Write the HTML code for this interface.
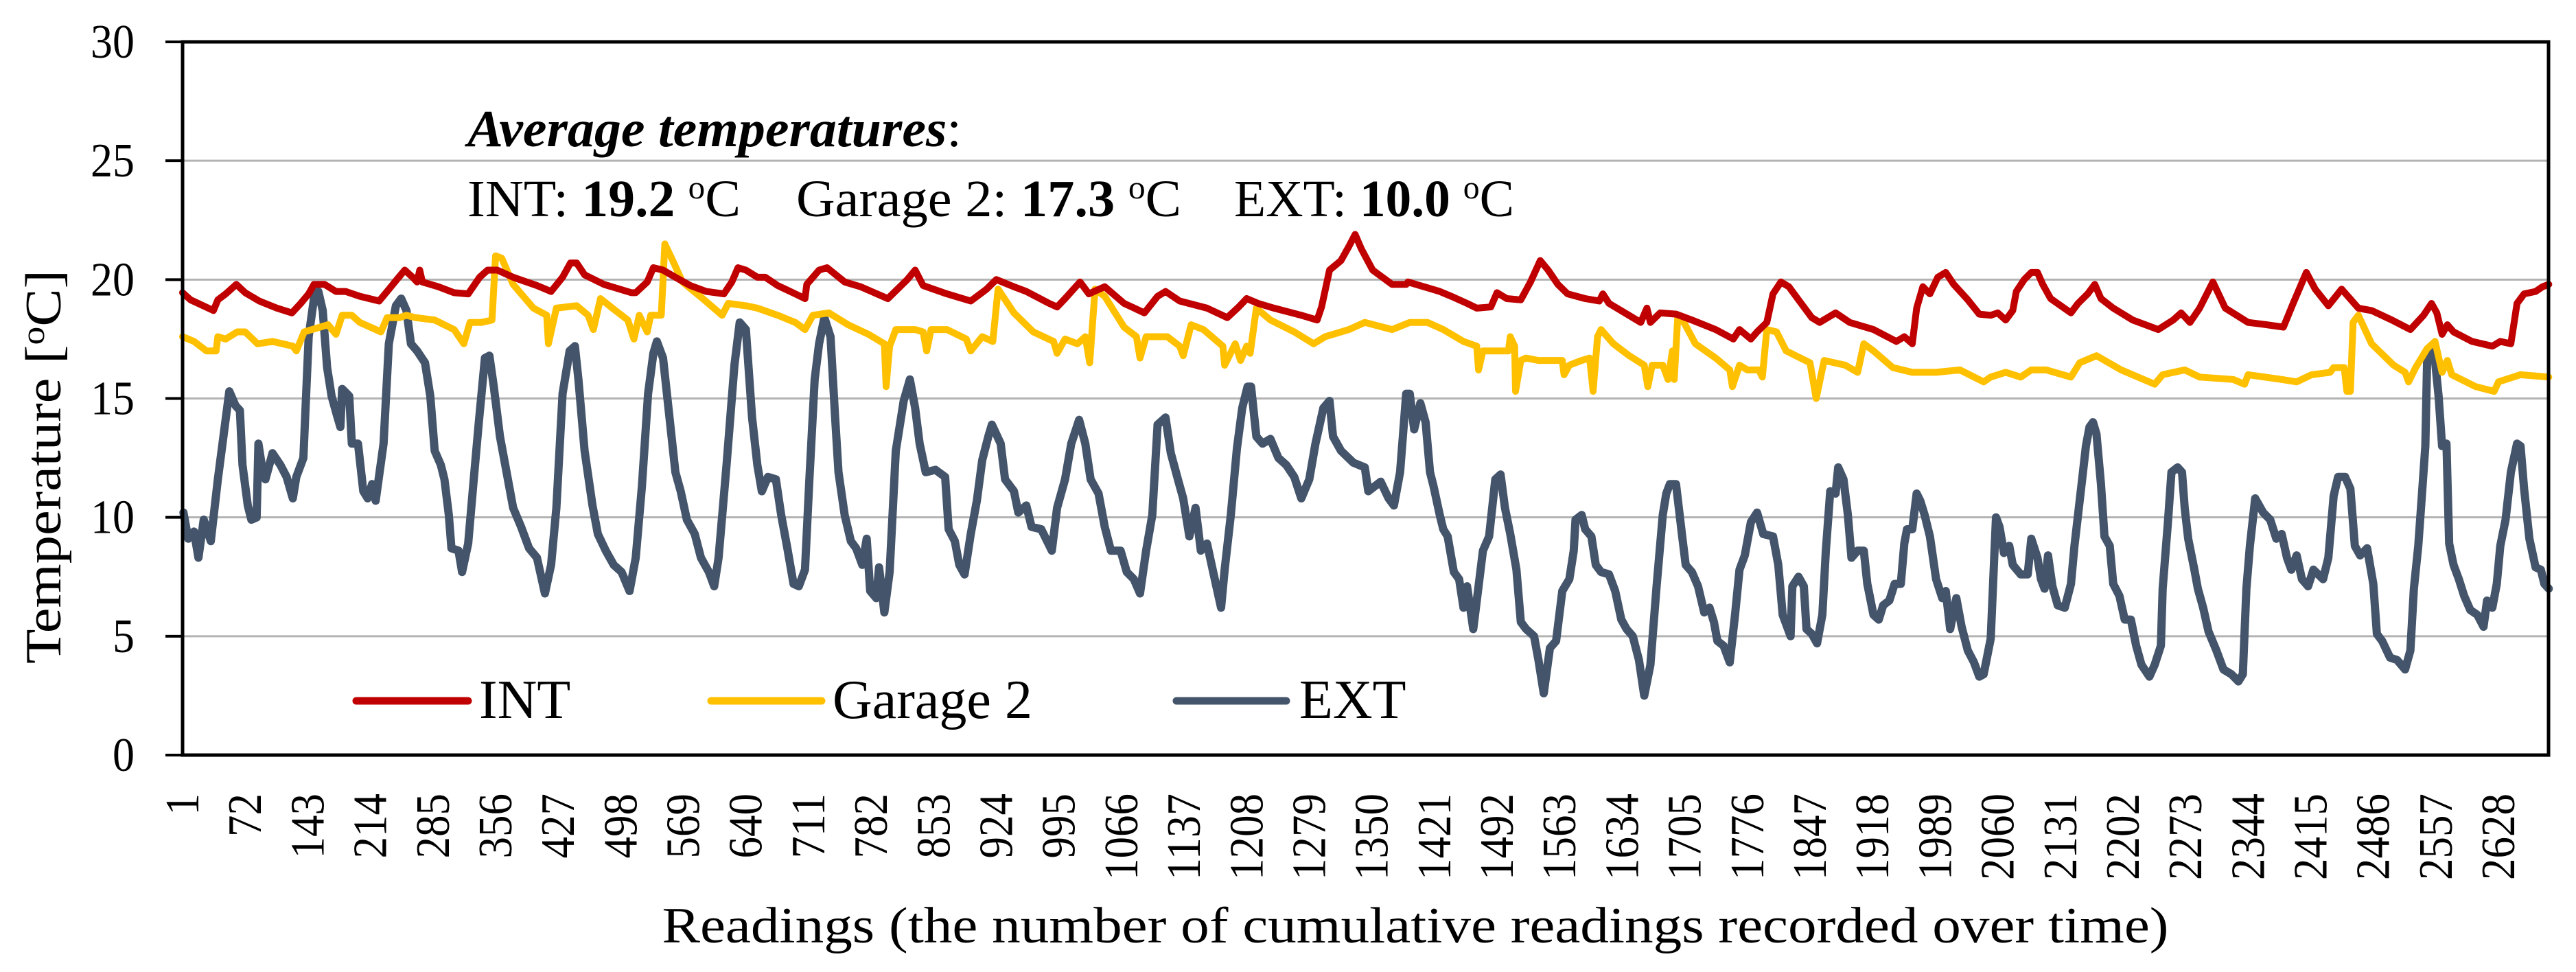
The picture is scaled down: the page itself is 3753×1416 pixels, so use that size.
<!DOCTYPE html>
<html><head><meta charset="utf-8"><style>
html,body{margin:0;padding:0;background:#fff;}
svg{display:block;font-family:"Liberation Serif",serif;}
</style></head><body>
<svg id="chart" width="3753" height="1416" viewBox="0 0 3753 1416" xmlns="http://www.w3.org/2000/svg">
<g id="grid"></g>
<g id="series"></g>
<g id="axes"></g>
<g font-size="76">
<text x="681" y="213" font-style="italic" font-weight="bold" textLength="720" lengthAdjust="spacingAndGlyphs">Average temperatures<tspan font-style="normal" font-weight="normal">:</tspan></text>
<text x="681" y="315" textLength="398" lengthAdjust="spacingAndGlyphs">INT: <tspan font-weight="bold">19.2</tspan> <tspan font-size="48" dy="-26">o</tspan><tspan dy="26">C</tspan></text>
<text x="1160" y="315" textLength="561" lengthAdjust="spacingAndGlyphs">Garage 2: <tspan font-weight="bold">17.3</tspan> <tspan font-size="48" dy="-26">o</tspan><tspan dy="26">C</tspan></text>
<text x="1798" y="315" textLength="408" lengthAdjust="spacingAndGlyphs">EXT: <tspan font-weight="bold">10.0</tspan> <tspan font-size="48" dy="-26">o</tspan><tspan dy="26">C</tspan></text>
</g>
<g font-size="80">
<line x1="519" y1="1021" x2="682" y2="1021" stroke="#C00000" stroke-width="11" stroke-linecap="round"/>
<text x="698" y="1046">INT</text>
<line x1="1036" y1="1021" x2="1197" y2="1021" stroke="#FFC000" stroke-width="11" stroke-linecap="round"/>
<text x="1213" y="1046">Garage 2</text>
<line x1="1714" y1="1021" x2="1874" y2="1021" stroke="#44546A" stroke-width="11" stroke-linecap="round"/>
<text x="1893" y="1046">EXT</text>
</g>
<text transform="translate(88,680) rotate(-90)" text-anchor="middle" font-size="74" textLength="574" lengthAdjust="spacingAndGlyphs">Temperature [<tspan font-size="48" dy="-24">o</tspan><tspan dy="24">C]</tspan></text>
<text x="2062" y="1373" text-anchor="middle" font-size="74" textLength="2195" lengthAdjust="spacingAndGlyphs">Readings (the number of cumulative readings recorded over time)</text>
</svg>
<script>
const yTickValues = [0,5,10,15,20,25,30];
const xTickLabels = [1,72,143,214,285,356,427,498,569,640,711,782,853,924,995,1066,1137,1208,1279,1350,1421,1492,1563,1634,1705,1776,1847,1918,1989,2060,2131,2202,2273,2344,2415,2486,2557,2628];

const intR = [1,10,36,41,50,62,72,88,108,125,135,144,150,162,175,186,202,224,233,244,253,262,267,270,273,291,309,325,338,347,358,376,403,419,432,441,448,457,479,510,515,528,535,546,560,577,595,615,624,631,640,653,662,676,696,
707,709,723,732,752,770,801,823,832,841,868,895,913,924,944,958,984,993,1002,1019,1029,1047,1069,1092,1107,1116,1132,1163,1186,1199,1208,1221,1239,1270,1288,1293,1302,1315,1324,1331,1338,1351,1373,1389,
1391,1409,1427,1440,1458,1469,1485,1492,1503,1519,1530,1541,1550,1561,1572,1592,1608,1612,1619,1637,1655,1662,1666,1677,1695,1713,1740,1760,1767,1780,1787,1798,1805,1814,1823,1834,1849,1858,1876,1892,1919,1945,1954,1963,1968,1975,1983,1992,2001,2010,2026,2039,
2052,2060,2069,2077,2081,2090,2098,2105,2111,2120,2143,2151,2162,2170,2177,2191,2213,2242,2259,2268,2278,2289,2304,2318,2344,2365,2384,2395,2410,2420,2435,2450,2469,2484,2507,2528,2543,2552,2558,2564,2570,2577,2598,2621,2630,2642,2649,2657,2670,2678,2685];
const intV = [19.45,19.15,18.7,19.15,19.4,19.8,19.45,19.1,18.8,18.6,19.0,19.4,19.8,19.8,19.5,19.5,19.3,19.1,19.5,20.0,20.4,20.1,19.9,20.4,19.9,19.7,19.45,19.4,20.1,20.4,20.4,20.1,19.75,19.5,20.1,20.7,20.7,20.2,19.8,19.45,19.45,19.9,20.5,20.4,20.1,19.75,19.5,19.4,19.9,20.5,20.4,20.1,20.1,19.75,19.4,
19.2,19.8,20.4,20.5,19.9,19.7,19.2,20.0,20.4,19.75,19.4,19.1,19.6,20.0,19.7,19.5,19.0,18.85,19.2,19.9,19.4,19.7,19.0,18.6,19.3,19.5,19.1,18.8,18.4,18.85,19.2,19.0,18.8,18.5,18.3,18.85,20.4,20.8,21.4,21.9,21.3,20.4,19.8,19.8,
19.9,19.7,19.5,19.3,19.0,18.8,18.85,19.45,19.2,19.15,19.9,20.8,20.4,19.8,19.4,19.2,19.1,19.4,19.0,18.6,18.2,18.8,18.2,18.6,18.55,18.3,17.9,17.5,17.9,17.5,17.8,18.2,19.4,19.9,19.7,19.15,18.4,18.2,18.6,18.2,17.9,17.4,17.6,17.3,18.8,19.7,19.4,20.1,20.3,19.8,19.15,18.55,
18.5,18.6,18.3,18.7,19.5,20.0,20.3,20.3,19.8,19.2,18.6,19.0,19.4,19.8,19.2,18.8,18.3,17.9,18.3,18.6,18.2,18.8,19.9,18.8,18.2,18.1,18.0,19.0,20.3,19.6,18.9,19.6,18.8,18.7,18.3,17.9,18.5,19.0,18.6,17.7,18.1,17.8,17.4,17.2,17.4,17.3,19.0,19.4,19.5,19.7,19.8];

const garR = [1,14,28,39,41,50,63,72,86,103,126,130,139,166,175,182,193,202,226,233,247,255,265,287,309,320,327,340,352,356,363,376,399,414,416,425,448,461,467,475,492,506,513,519,528,532,544,548,557,568,591,613,620,640,653,676,696,
707,716,734,756,779,797,799,803,810,832,841,845,850,868,890,895,908,920,926,944,966,989,993,1002,1016,1025,1030,1036,1047,1069,1083,1087,1094,1118,1132,1136,1145,1159,1181,1183,1195,1201,1208,1212,1219,1235,1262,1284,1297,1324,1342,1373,
1393,1413,1431,1454,1469,1471,1476,1492,1505,1507,1512,1513,1519,1525,1539,1566,1568,1574,1588,1597,1601,1606,1610,1624,1642,1659,1663,1668,1680,1686,1691,1693,1697,1704,1717,1740,1756,1759,1767,1776,1789,1793,1798,1809,1820,1847,1854,1863,1887,1901,1908,1919,1941,1963,1990,2017,2044,
2052,2069,2086,2098,2115,2143,2153,2172,2200,2238,2247,2272,2289,2327,2340,2344,2382,2399,2416,2437,2441,2453,2456,2460,2463,2469,2484,2509,2522,2526,2534,2547,2556,2564,2570,2575,2602,2623,2628,2653,2685];
const garV = [17.6,17.4,17.0,17.0,17.6,17.5,17.8,17.8,17.3,17.4,17.2,17.0,17.8,18.1,17.7,18.5,18.5,18.2,17.8,18.4,18.4,18.5,18.4,18.3,17.9,17.3,18.2,18.2,18.3,21.0,20.9,19.8,18.8,18.5,17.3,18.8,18.9,18.5,17.9,19.2,18.7,18.3,17.5,18.5,17.8,18.5,18.5,21.5,20.8,19.9,19.2,18.5,19.0,18.9,18.8,18.5,18.2,
17.9,18.5,18.6,18.1,17.7,17.3,15.5,17.2,17.9,17.9,17.8,17.0,17.9,17.9,17.5,17.0,17.6,17.4,19.6,18.6,17.8,17.4,16.9,17.5,17.3,17.6,16.5,19.6,19.3,18.0,17.6,16.7,17.6,17.6,17.2,16.8,18.1,17.9,17.2,16.4,17.3,16.6,17.2,16.9,18.8,18.3,17.8,17.3,17.6,17.9,18.2,17.9,
18.2,18.2,17.9,17.4,17.2,16.2,17.0,17.0,17.0,17.6,17.2,15.3,16.6,16.7,16.6,16.6,16.0,16.4,16.6,16.7,15.3,17.6,17.9,17.3,16.8,16.4,15.5,16.4,16.4,15.8,17.0,15.8,18.4,18.2,17.3,16.7,16.2,15.5,16.4,16.2,16.2,15.9,17.9,17.8,17.0,16.5,15.0,16.6,16.4,16.1,17.3,17.0,16.3,16.1,16.1,16.2,15.7,
15.9,16.1,15.9,16.2,16.2,15.9,16.5,16.8,16.2,15.6,16.0,16.2,15.9,15.8,15.6,16.0,15.8,15.7,16.0,16.1,16.3,16.3,15.3,15.3,18.2,18.5,17.3,16.4,16.1,15.7,16.3,17.1,17.4,16.1,16.6,16.0,15.5,15.3,15.7,16.0,15.9];

const extR = [2,7.5,14,19,25,33,41,48,54,61,66,69,75,79,85,87,92,95,103,112,119,126,130,138,144,150,155,160,165,170,176,180,182,190,193,200,206,211,216,220,229,235,243,249,255,260,267,276,282,287,294,298,303,306,314,318,325,331,337,344,349,354,361,367,376,385,394,403,412,419,425,432,440,446,450,457,466,472,481,490,499,508,515,522,529,535,539,546,553,560,566,573,582,589,598,604,609,618,627,633,640,647,653,658,665,674,680,687,694,
700,707,712,718,723,729,736,741,745,752,759,765,772,777,781,788,791,797,803,810,819,826,832,837,844,855,866,870,877,882,888,895,902,908,915,919,929,934,944,949,958,964,975,987,993,1002,1009,1018,1025,1031,1040,1047,1054,1065,1072,1080,1087,1094,1101,1107,1116,1122,1130,1136,1143,1150,1156,1163,1170,1179,1183,1190,1197,1203,1209,1213,1219,1226,1235,1244,1253,1262,1270,1279,1286,1295,1302,1306,1315,1329,1342,1346,1360,1369,1375,1382,
1389,1393,1398,1405,1411,1416,1420,1427,1431,1436,1443,1449,1454,1458,1465,1472,1476,1483,1490,1496,1501,1507,1514,1519,1525,1534,1539,1545,1552,1559,1566,1574,1579,1581,1588,1592,1599,1604,1610,1619,1626,1633,1639,1646,1653,1659,1666,1673,1680,1684,1688,1695,1702,1706,1713,1720,1727,1733,1738,1742,1749,1756,1762,1767,1773,1780,1787,1794,1805,1811,1816,1825,1827,1834,1840,1843,1849,1855,1861,1865,1870,1876,1879,1885,1890,1894,1901,1908,1912,1919,1925,1930,1937,1943,1950,1954,1957,1963,1968,1972,1977,1983,1990,1997,2001,2006,2013,2019,2026,2033,2039,2044,
2052,2056,2058,2062,2067,2073,2077,2086,2094,2098,2105,2109,2113,2117,2122,2128,2136,2143,2147,2151,2156,2160,2164,2168,2172,2177,2181,2187,2191,2198,2204,2211,2217,2223,2232,2238,2245,2247,2253,2257,2264,2269,2272,2276,2283,2287,2293,2299,2308,2316,2325,2333,2338,2342,2346,2352,2361,2369,2376,2382,2388,2393,2399,2405,2412,2418,2429,2435,2441,2446,2454,2460,2465,2471,2479,2486,2490,2496,2505,2513,2522,2528,2532,2537,2541,2545,2547,2552,2556,2560,2564,2569,2572,2577,2583,2589,2596,2604,2611,2615,2621,2626,2630,2636,2642,2649,2653,2657,2663,2670,2676,2680,2685];
const extV = [10.2,9.1,9.4,8.3,9.9,9.0,11.6,13.6,15.3,14.7,14.5,12.2,10.5,9.9,10.0,13.1,11.9,11.6,12.7,12.2,11.7,10.8,11.7,12.5,17.6,19.2,19.5,18.7,16.3,15.1,14.3,13.8,15.4,15.1,13.1,13.1,11.1,10.8,11.4,10.7,13.1,17.3,18.9,19.2,18.7,17.3,17.0,16.5,15.1,12.8,12.2,11.6,10.1,8.7,8.6,7.7,8.9,11.5,14.0,16.7,16.8,15.5,13.4,12.2,10.4,9.6,8.7,8.3,6.8,8.0,10.4,15.2,17.0,17.2,15.8,12.8,10.5,9.3,8.6,8.0,7.7,6.9,8.3,11.3,15.2,16.9,17.4,16.7,14.3,11.9,11.1,9.9,9.3,8.3,7.7,7.1,8.3,12.2,16.4,18.2,17.9,14.2,12.2,11.1,11.7,11.6,10.1,8.7,7.2,
7.1,7.8,11.6,15.8,17.3,18.4,17.6,14.3,11.9,10.1,9.0,8.7,8.0,9.1,6.9,6.6,7.9,6.0,7.7,12.8,14.9,15.8,14.6,13.1,11.9,12.0,11.7,9.5,9.0,8.0,7.6,9.3,10.7,12.4,13.4,13.9,13.1,11.6,11.1,10.2,10.5,9.6,9.5,8.6,10.4,11.6,13.1,14.1,13.1,11.6,11.0,9.6,8.6,8.6,7.7,7.4,6.8,8.6,10.1,13.9,14.2,12.7,11.6,10.8,9.2,10.4,8.6,8.9,7.7,6.2,7.8,10.1,12.9,14.6,15.5,15.5,13.4,13.1,13.3,12.5,12.2,11.7,10.8,11.6,13.1,14.6,14.9,13.4,12.8,12.3,12.1,11.1,11.5,10.8,10.5,11.9,
15.2,15.2,13.7,14.8,14.0,11.9,11.3,10.1,9.5,9.2,7.7,7.4,6.2,7.1,5.3,7.4,8.6,9.2,11.6,11.8,10.4,9.3,7.8,5.6,5.3,5.0,4.0,2.6,4.5,4.8,6.9,7.4,8.6,9.9,10.1,9.5,9.2,8.0,7.7,7.6,6.9,5.7,5.3,5.0,4.0,2.5,3.8,7.1,10.1,11.0,11.4,11.4,9.2,8.0,7.7,7.1,6.0,6.2,5.6,4.8,4.6,3.9,5.9,7.8,8.4,9.8,10.2,9.3,9.2,8.0,5.9,5.0,7.1,7.5,7.1,5.3,5.1,4.7,5.9,8.6,11.1,11.0,12.1,11.6,10.1,8.3,8.6,8.6,7.2,5.9,5.7,6.3,6.5,7.2,7.2,8.9,9.5,9.5,11.0,10.7,10.1,9.2,7.4,6.6,6.9,5.3,6.6,5.4,4.4,3.9,3.3,3.4,
4.9,8.3,10.0,9.6,8.5,8.8,8.0,7.6,7.6,9.1,8.3,7.4,7.0,8.4,7.1,6.3,6.2,7.2,8.8,10.1,11.7,13.0,13.8,14.0,13.5,11.4,9.2,8.8,7.2,6.7,5.7,5.7,4.6,3.8,3.3,3.8,4.6,7.0,9.8,11.9,12.1,11.9,10.4,9.1,7.8,7.0,6.2,5.2,4.4,3.6,3.4,3.1,3.4,7.0,8.8,10.8,10.2,9.9,9.1,9.3,8.3,7.8,8.4,7.4,7.1,7.8,7.4,8.3,10.9,11.7,11.7,11.2,8.8,8.4,8.7,7.2,5.1,4.8,4.1,4.0,3.6,4.4,7.0,8.8,10.9,13.0,16.6,17.1,16.6,15.1,13.0,13.1,8.9,8.0,7.4,6.7,6.1,5.9,5.4,6.5,6.2,7.2,8.8,9.9,11.9,13.1,13.0,11.2,9.1,7.9,7.8,7.2,7.0];

const NS = 'http://www.w3.org/2000/svg';
const PL = 266, PR = 3713, PT = 61, PB = 1100;
const yMin = 0, yMax = 30, rFirst = 1, rStep = 1.2844;
function xScale(r){ return PL + (r - rFirst) * rStep; }
function yScale(v){ return PB - (v - yMin) / (yMax - yMin) * (PB - PT); }
function mk(tag, attrs, parent){ const e = document.createElementNS(NS, tag); for (const k in attrs) e.setAttribute(k, attrs[k]); parent.appendChild(e); return e; }

const grid = document.getElementById('grid');
const axes = document.getElementById('axes');
const series = document.getElementById('series');

yTickValues.forEach(v => {
  const y = yScale(v);
  if (v > yMin && v < yMax) {
    const g = mk('line', {x1: PL, x2: PR, y1: y, y2: y, stroke: '#b3b3b3', 'stroke-width': 3}, grid);
    
    
  }
  const t = mk('line', {x1: PL - 25, x2: PL, y1: y, y2: y, stroke: '#000', 'stroke-width': 4}, axes);
  
  
  const s = String(v);
  const lb = mk('text', {x: 196, y: y + 23, 'text-anchor': 'end', 'font-size': 70, textLength: s.length * 32, lengthAdjust: 'spacingAndGlyphs'}, axes);
  lb.textContent = s;
  
  
});

const frame = mk('path', {d: `M${PL},${PB} L${PL},${PT} L${PR},${PT} L${PR},${PB} Z`, fill: 'none', stroke: '#000', 'stroke-width': 5}, axes);



xTickLabels.forEach(r => {
  const x = xScale(r);
  const s = String(r);
  const t = mk('text', {transform: `translate(${x + 23},1156) rotate(-90)`, 'text-anchor': 'end', 'font-size': 70, textLength: s.length * 31.5, lengthAdjust: 'spacingAndGlyphs'}, axes);
  t.textContent = s;
  
  
});

function drawSeries(rs, vs, color, w, name){
  let d = '';
  for (let i = 0; i < rs.length; i++) d += (i ? 'L' : 'M') + xScale(rs[i]).toFixed(1) + ',' + yScale(vs[i]).toFixed(1);
  const p = mk('path', {d: d, fill: 'none', stroke: color, 'stroke-width': w, 'stroke-linejoin': 'round', 'stroke-linecap': 'round'}, series);
  
  
}
drawSeries(extR, extV, '#44546A', 12, 'ext-line');
drawSeries(garR, garV, '#FFC000', 10, 'garage-2-line');
drawSeries(intR, intV, '#C00000', 10, 'int-line');
</script>
</body></html>
